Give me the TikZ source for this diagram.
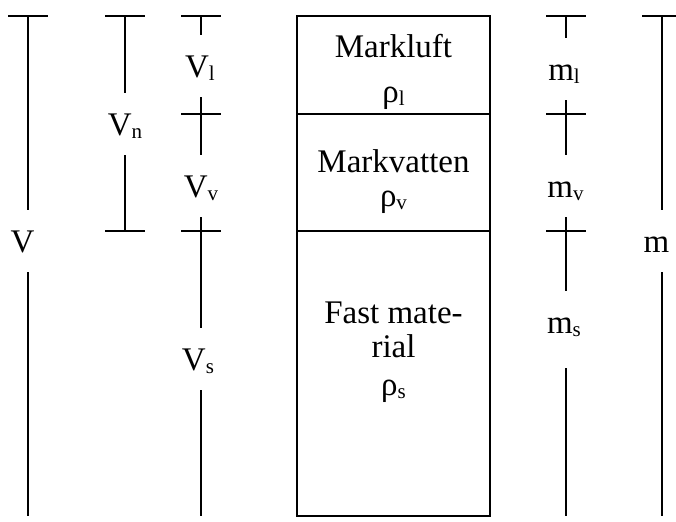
\documentclass[tikz,border=0pt]{standalone}
\usepackage{fontspec}
\setmainfont{Liberation Serif}

\newcommand{\lsub}[1]{\raisebox{-1.5pt}{\fontsize{10.5}{11}\selectfont #1}}
\newcommand{\dimtick}[1]{\draw ([xshift=-10pt]#1) -- ([xshift=10pt]#1);}

\begin{document}
\begin{tikzpicture}[x=0.5pt,y=-0.5pt,line width=1pt,
    every node/.style={font=\fontsize{16.5}{17}\selectfont},
    dimlab/.style={anchor=base,inner xsep=0pt,inner ysep=9.5pt,text height=11pt,text depth=0pt},
    boxtxt/.style={anchor=base,inner sep=0pt}]
    \useasboundingbox (0,0) rectangle (676,521);

    % total volume
    \coordinate (Vt) at (28,16);
    \coordinate (Vb) at (28,516);
    \node[dimlab] (labV) at (22.5,252) {V};
    \dimtick{Vt}
    \draw (Vt) -- (Vt |- labV.north);
    \draw (Vb |- labV.south) -- (Vb);

    % pore volume
    \coordinate (Vnt) at (125,16);
    \coordinate (Vnb) at (125,231);
    \node[dimlab] (labVn) at (125,135) {V\lsub{n}};
    \dimtick{Vnt}
    \dimtick{Vnb}
    \draw (Vnt) -- (Vnt |- labVn.north);
    \draw (Vnb |- labVn.south) -- (Vnb);

    % partial volumes
    \coordinate (Ct) at (201,16);
    \coordinate (Cl) at (201,114);
    \coordinate (Cv) at (201,231);
    \coordinate (Cb) at (201,516);
    \node[dimlab] (labVl) at (200,77) {V\lsub{l}};
    \node[dimlab] (labVv) at (201,197) {V\lsub{v}};
    \node[dimlab] (labVs) at (198,370) {V\lsub{s}};
    \foreach \c in {Ct,Cl,Cv}
        \dimtick{\c}
    \draw (Ct) -- (Ct |- labVl.north);
    \draw (Ct |- labVl.south) -- (Ct |- labVv.north);
    \draw (Ct |- labVv.south) -- (Ct |- labVs.north);
    \draw (Cb |- labVs.south) -- (Cb);

    % soil column
    \coordinate (Bnw) at (297,16);
    \coordinate (Bse) at (490,516);
    \draw (Bnw) rectangle (Bse);
    \draw (Bnw |- Cl) -- (Bse |- Cl);
    \draw (Bnw |- Cv) -- (Bse |- Cv);
    \node[boxtxt] (luft) at (393.5,57) {Markluft};
    \node[boxtxt] (rhol) at (393.5,102) {ρ\lsub{l}};
    \node[boxtxt] (vatten) at (393.5,172) {Markvatten};
    \node[boxtxt] (rhov) at (393.5,206) {ρ\lsub{v}};
    \node[boxtxt] (fast) at (393.5,323) {Fast mate-};
    \node[boxtxt] (rial) at (393.5,357) {rial};
    \node[boxtxt] (rhos) at (393.5,395) {ρ\lsub{s}};

    % partial masses
    \coordinate (Mt) at (566,16);
    \coordinate (Ml) at (566,114);
    \coordinate (Mv) at (566,231);
    \coordinate (Mb) at (566,516);
    \node[dimlab] (labml) at (564,80) {m\lsub{l}};
    \node[dimlab] (labmv) at (565.5,197) {m\lsub{v}};
    \node[dimlab,text depth=7.5pt] (labms) at (564,333) {m\lsub{s}};
    \foreach \c in {Mt,Ml,Mv}
        \dimtick{\c}
    \draw (Mt) -- (Mt |- labml.north);
    \draw (Mt |- labml.south) -- (Mt |- labmv.north);
    \draw (Mt |- labmv.south) -- (Mt |- labms.north);
    \draw (Mb |- labms.south) -- (Mb);

    % total mass
    \coordinate (mt) at (662,16);
    \coordinate (mb) at (662,516);
    \node[dimlab] (labm) at (656.5,252) {m};
    \dimtick{mt}
    \draw (mt) -- (mt |- labm.north);
    \draw (mb |- labm.south) -- (mb);
\end{tikzpicture}
\end{document}
